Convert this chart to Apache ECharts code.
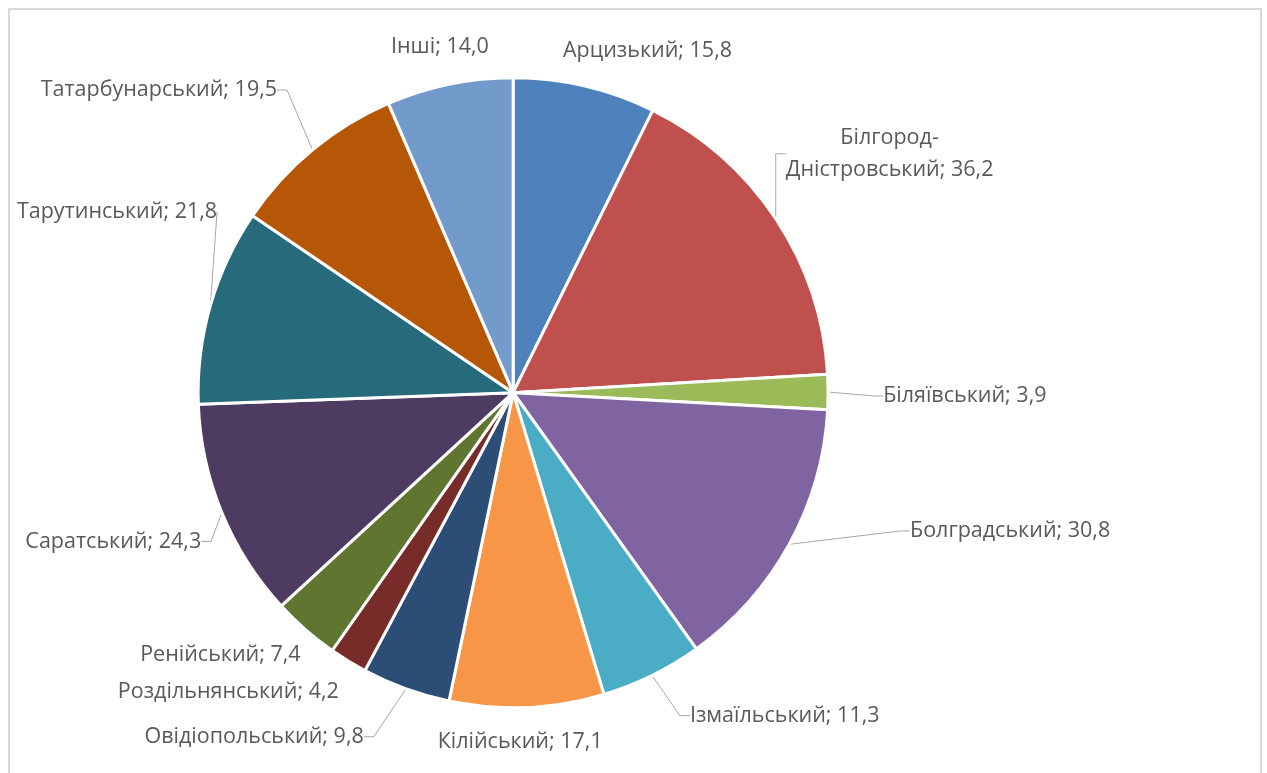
<!DOCTYPE html>
<html><head><meta charset="utf-8">
<script src="https://cdn.jsdelivr.net/npm/echarts@6/dist/echarts.min.js"></script>
<style>
html,body{margin:0;padding:0;background:#fff;}
#frame{position:absolute;left:8px;top:8px;width:1254px;height:780px;border:2px solid #d9d9d9;box-sizing:border-box;}
#chart{position:absolute;left:0;top:0;width:1267px;height:773px;}
</style></head>
<body>
<div id="frame"></div>
<div id="chart"></div>
<script>
const categories = ['Арцизький','Білгород-\nДністровський','Біляївський','Болградський','Ізмаїльський','Кілійський','Овідіопольський','Роздільнянський','Ренійський','Саратський','Тарутинський','Татарбунарський','Інші'];
const values = [15.8,36.2,3.9,30.8,11.3,17.1,9.8,4.2,7.4,24.3,21.8,19.5,14.0];
const colors = ['#4F81BD','#C0504D','#9BBB59','#8064A2','#4BACC6','#F79646','#2C4D75','#772C2A','#5F7530','#4D3B62','#276A7C','#B65708','#729ACA'];
// label nudges (dx, dy) relative to ECharts' default outside label placement
const labelNudge = [[-41,-18],[-20,-55],[22,4],[90,-22],[15,24],[-105,17],[-21,31],[15,15],[22,12],[11,22],[39,-89],[-9,-46],[58,-20]];
const showLeader = [false,true,true,true,true,false,true,false,false,true,true,true,false];

const chart = echarts.init(document.getElementById('chart'));
chart.setOption({
  animation:false,
  color: colors,
  series:[{
    type:'pie',
    center:['40.5%','50.8%'],
    radius:['0%', 315],
    startAngle:90,
    clockwise:true,
    avoidLabelOverlap:false,
    itemStyle:{borderColor:'#fff',borderWidth:3},
    label:{
      show:true,
      fontFamily:'Open Sans',
      fontSize:21.5,
      color:'#595959',
      lineHeight:32,
      formatter: p => p.name + '; ' + p.value.toFixed(1).replace('.', ',')
    },
    labelLine:{show:true,length:18,length2:10,lineStyle:{color:'#a6a6a6',width:1}},
    labelLayout: function(p){
      const r = p.labelRect, n = labelNudge[p.dataIndex];
      return {x: r.x + n[0] + r.width/2, y: r.y + r.height/2 + n[1], align:'center', verticalAlign:'middle'};
    },
    data: categories.map((c,i)=>({name:c,value:values[i],labelLine:{show:showLeader[i]}}))
  }]
});
</script>
</body></html>
